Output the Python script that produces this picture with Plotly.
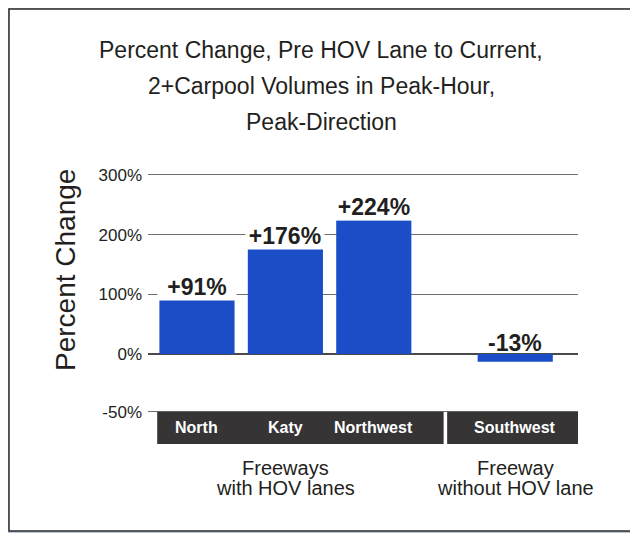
import plotly.graph_objects as go

# chart data
title_lines = [
    "Percent Change, Pre HOV Lane to Current,",
    "2+Carpool Volumes in Peak-Hour,",
    "Peak-Direction",
]
freeways = ["North", "Katy", "Northwest", "Southwest"]
pct_change = [91, 176, 224, -13]
value_labels = ["+91%", "+176%", "+224%", "-13%"]
freeway_group = ["with", "with", "with", "without"]
group_order = ["with", "without"]
group_text = {
    "with": ["Freeways", "with HOV lanes"],
    "without": ["Freeway", "without HOV lane"],
}
# the original axis is squeezed below zero: the "-50%" tick sits at the band top
tick_values = [-97, 0, 100, 200, 300]
tick_labels = ["-50%", "0%", "100%", "200%", "300%"]
y_title = "Percent Change"

# styling / layout
OFFSET = 8  # default body margin of the html page
W, H = 638 - OFFSET, 533 - OFFSET
M_L, M_R, M_T, M_B = 140, 60, 164, 89
BAR_BLUE = "#1b4ec6"
BAND = "#363435"
INK = "#231f20"
GROUP_GAP = 0.6
BAR_WIDTH = 0.85
Y_RANGE = [-151, 305]
BAND_BOTTOM = -151
SANS = "Liberation Sans, Arial, sans-serif"

x_pos = [i + GROUP_GAP * group_order.index(g) for i, g in enumerate(freeway_group)]
X_RANGE = [x_pos[0] - 0.554, x_pos[-1] + 0.71]

plot_w = W - M_L - M_R
plot_h = H - M_T - M_B


def paper_x(px):
    # px measured on the page
    return (px - OFFSET - M_L) / plot_w


def paper_y(py):
    return (H - M_B - (py - OFFSET)) / plot_h


fig = go.Figure()
fig.add_trace(
    go.Bar(
        x=x_pos,
        y=pct_change,
        width=BAR_WIDTH,
        marker=dict(color=BAR_BLUE, line=dict(width=0)),
        hoverinfo="skip",
        showlegend=False,
    )
)

shapes = [
    # white panel with dark frame
    dict(
        type="rect", xref="paper", yref="paper",
        x0=paper_x(OFFSET + 1), x1=paper_x(660), y0=paper_y(531), y1=paper_y(OFFSET + 1),
        fillcolor="white", line=dict(color="#2b2b2b", width=1.5), layer="below",
    )
]
annotations = []

# title, one annotation per line to keep the wide line spacing
for i, line in enumerate(title_lines):
    annotations.append(dict(
        text=line, xref="paper", yref="paper", x=paper_x(321), y=paper_y(50 + 36 * i),
        xanchor="center", yanchor="middle", showarrow=False,
        font=dict(family=SANS, size=23, color=INK),
    ))

annotations.append(dict(
    text=y_title, xref="paper", yref="paper", x=paper_x(65), y=paper_y(270),
    textangle=-90, xanchor="center", yanchor="middle", showarrow=False,
    font=dict(family=SANS, size=28, color=INK),
))

# value labels above bars; white boxes break the grid lines behind them
for x, v, lab in zip(x_pos, pct_change, value_labels):
    annotations.append(dict(
        text=f"<b>{lab}</b>", x=x, y=max(v, 0), xref="x", yref="y",
        yanchor="bottom", xanchor="center", yshift=-1 if v > 0 else -3, showarrow=False,
        width=78 if v > 0 else None,
        bgcolor="white" if v > 0 else "rgba(0,0,0,0)", borderpad=0,
        font=dict(family=SANS, size=23, color=INK),
    ))

# dark category bands, one per group
for k, g in enumerate(group_order):
    xs = [x for x, gg in zip(x_pos, freeway_group) if gg == g]
    if k == 0:
        left = xs[0] - 0.45
    else:
        prev = [x for x, gg in zip(x_pos, freeway_group) if gg == group_order[k - 1]]
        left = (prev[-1] + xs[0]) / 2 + 0.03
    if k == len(group_order) - 1:
        right = xs[-1] + 0.71
    else:
        nxt = [x for x, gg in zip(x_pos, freeway_group) if gg == group_order[k + 1]]
        right = (xs[-1] + nxt[0]) / 2 - 0.01
    shapes.append(dict(
        type="rect", xref="x", yref="y", x0=left, x1=right,
        y0=BAND_BOTTOM, y1=tick_values[0],
        fillcolor=BAND, line=dict(width=0), layer="above",
    ))
    centre = sum(xs) / len(xs)
    for j, line in enumerate(group_text[g]):
        annotations.append(dict(
            text=line, x=centre, y=BAND_BOTTOM, xref="x", yref="y",
            yanchor="middle", xanchor="center", yshift=-24 - 20 * j, showarrow=False,
            font=dict(family=SANS, size=20, color=INK),
        ))

for x, name in zip(x_pos, freeways):
    annotations.append(dict(
        text=f"<b>{name}</b>", x=x, y=(BAND_BOTTOM + tick_values[0]) / 2,
        xref="x", yref="y", yanchor="middle", xanchor="center", showarrow=False,
        font=dict(family=SANS, size=16, color="white"),
    ))

fig.update_layout(
    width=W,
    height=H,
    margin=dict(l=M_L, r=M_R, t=M_T, b=M_B, pad=0),
    paper_bgcolor="#b8c6d8",
    plot_bgcolor="rgba(0,0,0,0)",
    shapes=shapes,
    annotations=annotations,
    xaxis=dict(
        range=X_RANGE, showgrid=False, zeroline=False, showticklabels=False,
        showline=False, fixedrange=True,
    ),
    yaxis=dict(
        range=Y_RANGE, tickvals=tick_values, ticktext=tick_labels,
        showgrid=True, gridcolor="#6e6e6e", gridwidth=1,
        zeroline=True, zerolinecolor="#4a4a4a", zerolinewidth=1.5,
        ticks="", ticklabelstandoff=5, showline=False, fixedrange=True,
        tickfont=dict(family=SANS, size=17, color=INK),
    ),
)

fig.write_html("out.html")
